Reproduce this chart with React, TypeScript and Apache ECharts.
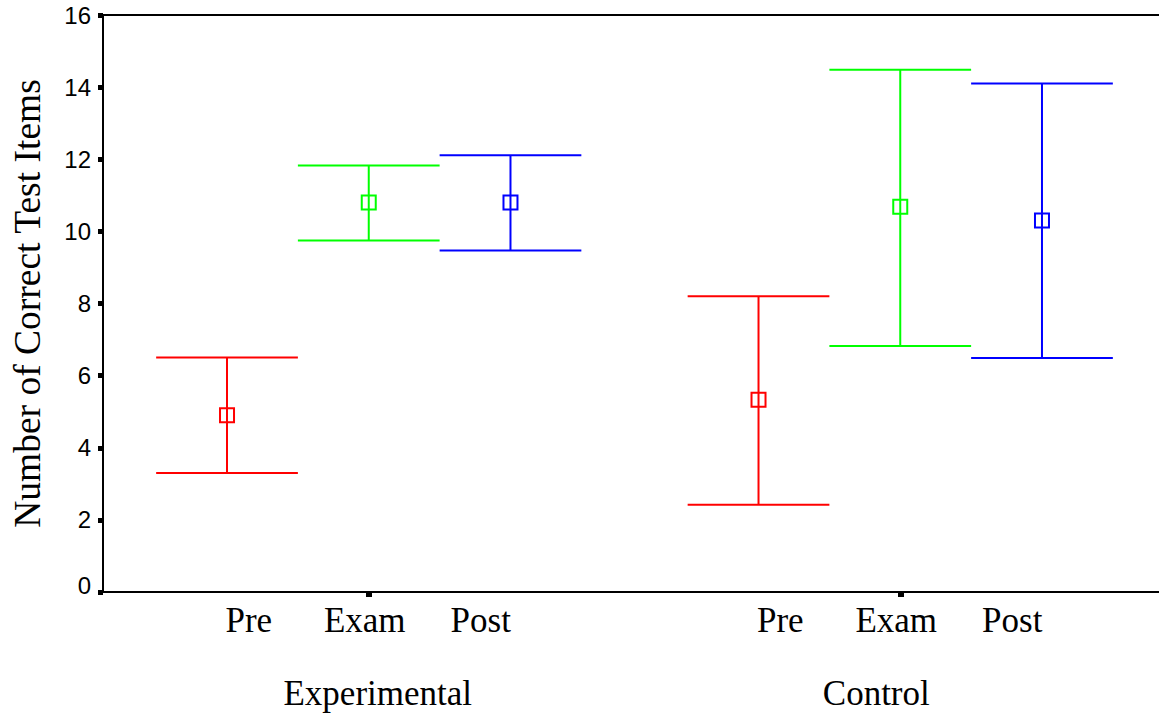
import React, { useEffect, useRef } from "react";
import * as echarts from "echarts";

// Groups on the x axis and the three test phases inside each group
const groups = ["Experimental", "Control"];
const phases = ["Pre", "Exam", "Post"];
const phaseColors = ["#ff0000", "#00ff00", "#0000ff"];

// Means and interval bounds per phase (Pre, Exam, Post)
const experimentalMean = [4.9, 10.8, 10.8];
const experimentalLower = [3.3, 9.75, 9.47];
const experimentalUpper = [6.5, 11.83, 12.11];

const controlMean = [5.33, 10.68, 10.3];
const controlLower = [2.42, 6.82, 6.49];
const controlUpper = [8.2, 14.48, 14.1];

const yTicks = [0, 2, 4, 6, 8, 10, 12, 14, 16];

export default function App() {
  const ref = useRef<HTMLDivElement>(null);

  useEffect(() => {
    if (!ref.current) return;
    const chart = echarts.init(ref.current, undefined, { renderer: "svg" });

    const rows: number[][] = [];
    const addGroup = (g: number, mean: number[], lo: number[], hi: number[]) => {
      phases.forEach((_, p) => rows.push([g, p, mean[p], lo[p], hi[p]]));
    };
    addGroup(0, experimentalMean, experimentalLower, experimentalUpper);
    addGroup(1, controlMean, controlLower, controlUpper);

    const serif = "Liberation Serif, Times New Roman, serif";
    const sans = "Liberation Sans, Arial, sans-serif";

    chart.setOption({
      animation: false,
      backgroundColor: "#ffffff",
      // the plot runs a little past the right edge of the visible frame
      grid: { left: 100, top: 15, width: 1066, height: 577, containLabel: false },
      xAxis: [
        {
          type: "category",
          data: groups,
          boundaryGap: true,
          axisLine: { show: true, lineStyle: { color: "#000", width: 2 } },
          axisTick: {
            show: true,
            interval: 0,
            alignWithLabel: true,
            length: 5,
            lineStyle: { color: "#000", width: 6 },
          },
          axisLabel: {
            interval: 0,
            hideOverlap: false,
            margin: 10,
            color: "#000",
            fontFamily: serif,
            fontSize: 35,
            formatter: (v: string) =>
              "{p|Pre}{p|Exam}{p|Post}{s| }\n" + (v === "Experimental" ? "{ge|" + v + "}" : "{gc|" + v + "}"),
            rich: {
              p: { width: 116, align: "center", fontFamily: serif, fontSize: 35, lineHeight: 36, color: "#000" },
              s: { width: 8, fontFamily: serif, fontSize: 35, lineHeight: 36, color: "#000" },
              ge: { fontFamily: serif, fontSize: 35, lineHeight: 110, color: "#000", padding: [0, 0, 0, 18] },
              gc: { fontFamily: serif, fontSize: 35, lineHeight: 110, color: "#000", padding: [0, 48, 0, 0] },
            },
          },
          splitLine: { show: false },
        },
        {
          type: "category",
          data: groups,
          position: "top",
          axisLine: { show: true, lineStyle: { color: "#000", width: 2 } },
          axisTick: { show: false },
          axisLabel: { show: false },
          splitLine: { show: false },
        },
      ],
      yAxis: {
        type: "value",
        min: 0,
        max: 16,
        interval: 2,
        name: "Number of Correct Test Items",
        nameLocation: "middle",
        nameGap: 57,
        nameTextStyle: { fontFamily: serif, fontSize: 37.5, color: "#000" },
        axisLine: { show: true, lineStyle: { color: "#000", width: 2 } },
        axisTick: { show: true, length: 5, lineStyle: { color: "#000", width: 5 } },
        axisLabel: {
          margin: 12,
          color: "#000",
          fontFamily: sans,
          fontSize: 24,
          formatter: (v: number) => (yTicks.indexOf(v) === 0 ? "{z|" + v + "}" : String(v)),
          rich: { z: { fontFamily: sans, fontSize: 24, color: "#000", padding: [0, 0, 14, 0] } },
        },
        splitLine: { show: false },
      },
      series: [
        {
          type: "custom",
          xAxisIndex: 0,
          clip: false,
          encode: { x: 0, y: [2, 3, 4] },
          data: rows,
          renderItem: (params: any, api: any) => {
            const g = api.value(0);
            const p = api.value(1);
            const mean = api.value(2);
            const lo = api.value(3);
            const hi = api.value(4);
            const band = api.size([1, 0])[0];
            const sub = (band * 0.8) / 3;
            const c = api.coord([g, mean]);
            const x = c[0] + (p - 1) * sub;
            const yMean = c[1];
            const yLo = api.coord([g, lo])[1];
            const yHi = api.coord([g, hi])[1];
            const color = phaseColors[p];
            const stroke = { stroke: color, lineWidth: 2, fill: "none" };
            const half = sub / 2;
            const sq = 7;
            return {
              type: "group",
              children: [
                { type: "line", shape: { x1: x, y1: yHi, x2: x, y2: yLo }, style: stroke },
                { type: "line", shape: { x1: x - half, y1: yHi, x2: x + half, y2: yHi }, style: stroke },
                { type: "line", shape: { x1: x - half, y1: yLo, x2: x + half, y2: yLo }, style: stroke },
                { type: "rect", shape: { x: x - sq, y: yMean - sq, width: sq * 2, height: sq * 2 }, style: stroke },
              ],
            };
          },
        },
      ],
    });

    return () => chart.dispose();
  }, []);

  return (
    <div
      style={{
        position: "absolute",
        left: 0,
        top: 0,
        width: 1159,
        height: 715,
        overflow: "hidden",
        background: "#fff",
      }}
    >
      <div ref={ref} style={{ width: 1170, height: 715 }} />
    </div>
  );
}
